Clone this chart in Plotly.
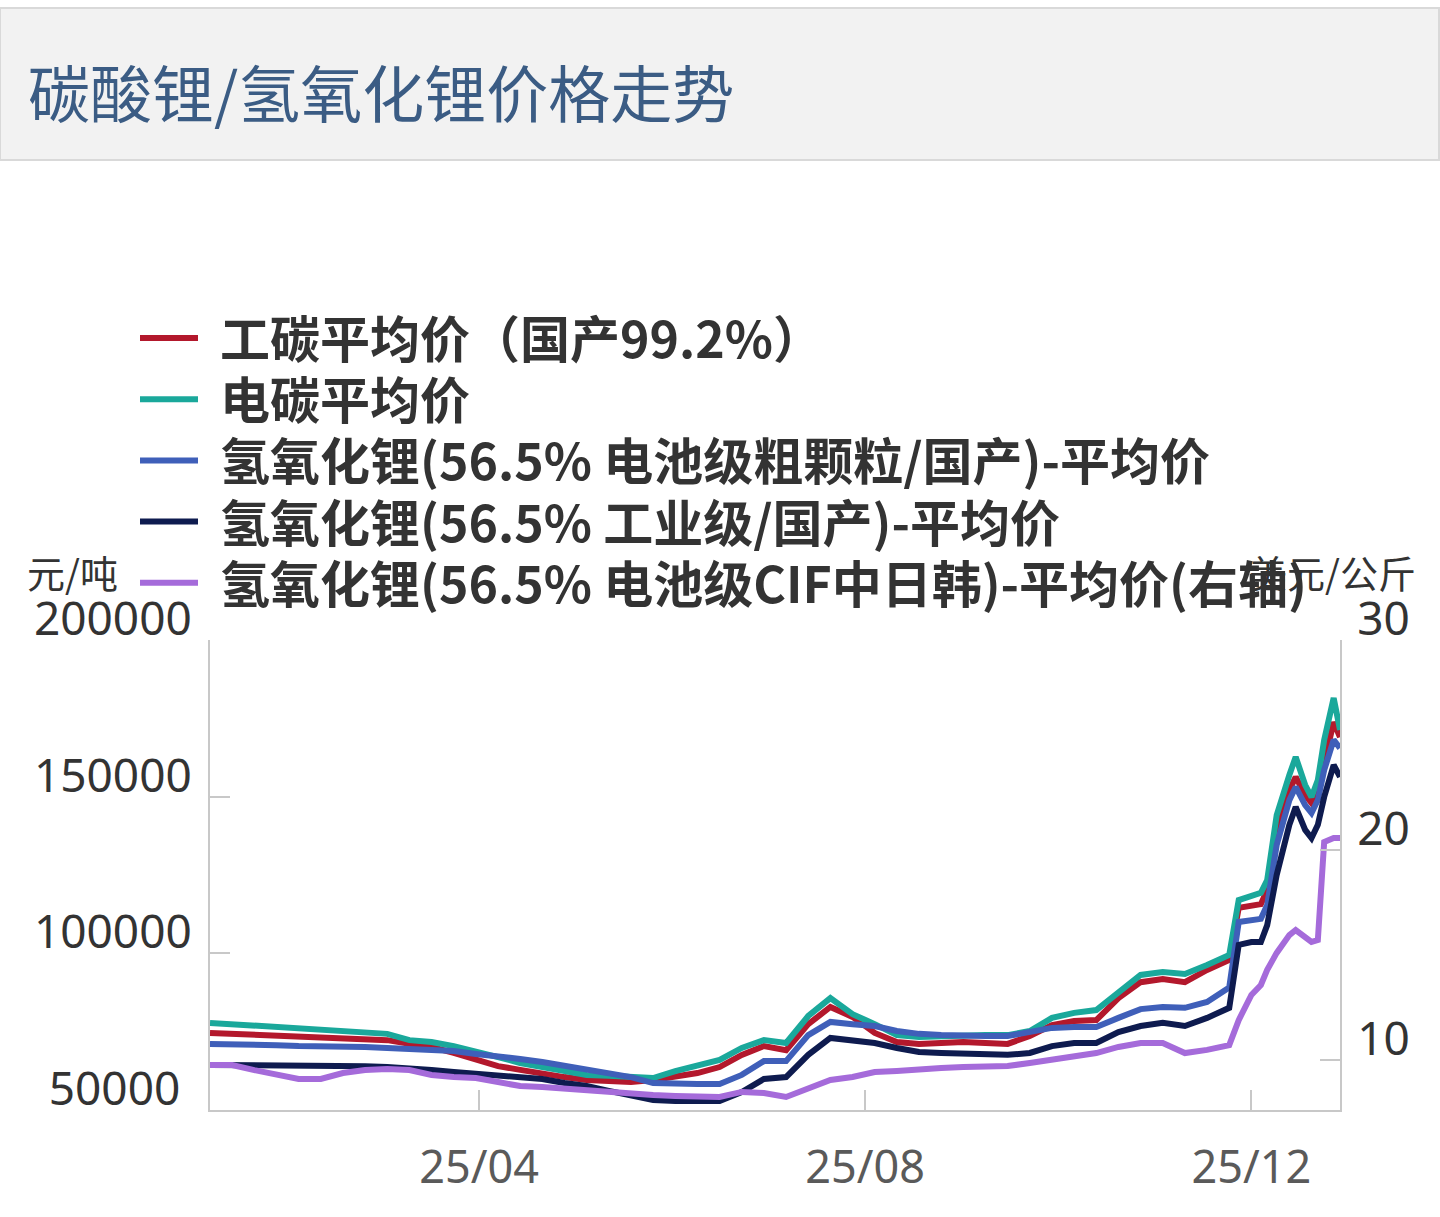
import plotly.graph_objects as go

# ---- data ----
dates = [
    "2025-01-06", "2025-01-13", "2025-01-20", "2025-01-27", "2025-02-03", "2025-02-10",
    "2025-02-17", "2025-02-24", "2025-03-03", "2025-03-10", "2025-03-17", "2025-03-24",
    "2025-03-31", "2025-04-07", "2025-04-14", "2025-04-21", "2025-04-28", "2025-05-05",
    "2025-05-12", "2025-05-19", "2025-05-26", "2025-06-02", "2025-06-09", "2025-06-16",
    "2025-06-23", "2025-06-30", "2025-07-07", "2025-07-14", "2025-07-21", "2025-07-28",
    "2025-08-04", "2025-08-11", "2025-08-18", "2025-08-25", "2025-09-01", "2025-09-08",
    "2025-09-15", "2025-09-22", "2025-09-29", "2025-10-06", "2025-10-13", "2025-10-20",
    "2025-10-27", "2025-11-03", "2025-11-10", "2025-11-17", "2025-11-24", "2025-11-27",
    "2025-12-01", "2025-12-04", "2025-12-06", "2025-12-09", "2025-12-13", "2025-12-15",
    "2025-12-18", "2025-12-20", "2025-12-22", "2025-12-24", "2025-12-27", "2025-12-29",
]

# 元/吨
gongtan = [
    74600, 74300, 73900, 73600, 73300, 73300, 73000, 72700, 72300, 71100,
    70100, 68200, 66000, 64000, 62800, 61500, 60500, 59600, 59300, 58900,
    59600, 60500, 61800, 63700, 67600, 70400, 69100, 77400, 82900, 79700,
    74600, 71700, 71100, 71400, 71700, 71400, 71100, 73600, 77100, 78400,
    78700, 85700, 90800, 91800, 90800, 94700, 97900, 114500, 115400, 115700,
    120200, 139400, 152100, 156300, 150500, 148000, 152100, 161700, 173800, 169000,
]
diantan = [
    77800, 77400, 76800, 76500, 76200, 75900, 75500, 74900, 74300, 72300,
    71700, 70400, 68800, 66900, 65000, 63700, 62400, 61200, 60900, 60500,
    60200, 62400, 64000, 66000, 69800, 72300, 71400, 80000, 85700, 80600,
    77400, 73900, 73300, 73600, 73900, 73900, 73900, 75200, 79400, 81000,
    81900, 87700, 93100, 94000, 93400, 96300, 99500, 117000, 118600, 119300,
    123400, 144100, 156900, 162700, 153700, 149900, 155300, 168100, 181500, 171300,
]
lioh_battery = [
    71100, 71100, 70700, 70700, 70400, 70400, 70100, 70100, 69800, 69500,
    69100, 68800, 67900, 67200, 66300, 65300, 64000, 63100, 61800, 60500,
    58600, 58300, 58300, 58300, 61200, 65600, 65600, 73900, 78100, 77400,
    76800, 75200, 74300, 73900, 73600, 73600, 73600, 74900, 76200, 76500,
    76500, 79400, 82200, 82900, 82600, 84500, 89100, 110000, 110600, 111000,
    115400, 134600, 148900, 153100, 147300, 144800, 148900, 158500, 168100, 165500,
]
lioh_industrial = [
    64400, 64400, 64400, 64400, 64400, 64000, 64000, 64000, 63700, 63400,
    62800, 62100, 61500, 60900, 60200, 59900, 58600, 57700, 56100, 54500,
    53200, 52900, 52900, 52900, 55700, 59900, 60500, 67600, 73000, 72300,
    71400, 69800, 68500, 68200, 67900, 67600, 67600, 68200, 70400, 71400,
    71400, 74900, 76800, 77800, 76800, 79400, 82600, 102700, 103600, 103600,
    109000, 125000, 141000, 146700, 139400, 136800, 141000, 149900, 160100, 156300,
]
# 美元/公斤 (右轴)
lioh_cif = [
    9.76, 9.76, 9.52, 9.29, 9.10, 9.10, 9.38, 9.52, 9.57, 9.52,
    9.29, 9.19, 9.14, 8.95, 8.76, 8.71, 8.62, 8.57, 8.48, 8.38,
    8.33, 8.29, 8.24, 8.24, 8.48, 8.43, 8.24, 8.62, 9.05, 9.19,
    9.43, 9.48, 9.57, 9.62, 9.67, 9.71, 9.71, 9.86, 10.00, 10.19,
    10.33, 10.62, 10.81, 10.81, 10.33, 10.48, 10.71, 11.90, 13.10, 13.57,
    14.29, 15.10, 15.95, 16.19, 15.81, 15.62, 15.71, 20.38, 20.57, 20.57,
]

series_names = [
    "工碳平均价（国产99.2%）",
    "电碳平均价",
    "氢氧化锂(56.5% 电池级粗颗粒/国产)-平均价",
    "氢氧化锂(56.5% 工业级/国产)-平均价",
    "氢氧化锂(56.5% 电池级CIF中日韩)-平均价(右轴)",
]
series_colors = ["#B3182C", "#1AA89B", "#3F5FB9", "#0E1B4F", "#A56BDA"]

left_ticks = [50000, 100000, 150000, 200000]
# labels are centred in the reference, so the 5-digit one gets a little padding
left_ticktext = ["50000\u2005", "100000", "150000", "200000"]
right_ticks = [10, 20, 30]
x_tickvals = ["2025-04-01", "2025-08-01", "2025-12-01"]
x_ticktext = ["25/04", "25/08", "25/12"]

# ---- geometry of the plot area (pixels) ----
W, H = 1440, 1217
L, R, T, B = 210, 1340, 640, 1110


def px(x):
    return (x - L) / (R - L)


def py(y):
    return (B - y) / (B - T)


CJK = "Noto Sans CJK SC"
NUM = "Noto Sans, Noto Sans CJK SC"

fig = go.Figure()

left_series = [gongtan, diantan, lioh_battery, lioh_industrial]
for name, vals, color in zip(series_names[:4], left_series, series_colors[:4]):
    fig.add_trace(go.Scatter(
        x=dates, y=vals, name=name, mode="lines",
        line=dict(color=color, width=6), showlegend=False,
    ))

fig.add_trace(go.Scatter(
    x=dates, y=lioh_cif, name=series_names[4], mode="lines", yaxis="y2",
    line=dict(color=series_colors[4], width=6), showlegend=False,
))

# title band
fig.add_shape(type="rect", xref="paper", yref="paper",
              x0=px(0), x1=px(1439), y0=py(160), y1=py(8),
              fillcolor="#F2F2F2", line=dict(color="#D9D9D9", width=2), layer="below")
fig.add_annotation(text="碳酸锂/氢氧化锂价格走势", xref="paper", yref="paper",
                   x=px(26), y=py(91), xanchor="left", yanchor="middle", showarrow=False,
                   font=dict(family=CJK, size=62, color="#3B5C84"))

# axis unit labels
fig.add_annotation(text="元/吨", xref="paper", yref="paper",
                   x=px(25), y=py(571), xanchor="left", yanchor="middle", showarrow=False,
                   font=dict(family=CJK, size=38, color="#333333"))
fig.add_annotation(text="美元/公斤", xref="paper", yref="paper",
                   x=px(1418), y=py(571), xanchor="right", yanchor="middle", showarrow=False,
                   font=dict(family=CJK, size=38, color="#333333"))

# legend drawn by hand (long swatches, big bold text)
for i, (name, color) in enumerate(zip(series_names, series_colors)):
    yc = 336 + 61.2 * i
    fig.add_shape(type="line", xref="paper", yref="paper",
                  x0=px(140), x1=px(198), y0=py(yc + 2), y1=py(yc + 2),
                  line=dict(color=color, width=6))
    fig.add_annotation(text=f"<b>{name}</b>", xref="paper", yref="paper",
                       x=px(218), y=py(yc), xanchor="left", yanchor="middle", showarrow=False,
                       font=dict(family=CJK, size=50, color="#333333"))

axis_line = dict(showline=True, linecolor="#C8C8C8", linewidth=2,
                 ticks="inside", ticklen=20, tickwidth=2, tickcolor="#C8C8C8",
                 showgrid=False, zeroline=False, automargin=False)

fig.update_layout(
    width=W, height=H, autosize=False,
    margin=dict(l=L, r=W - R, t=T, b=H - B),
    paper_bgcolor="white", plot_bgcolor="white",
    showlegend=False,
    xaxis=dict(
        type="date", range=["2025-01-06", "2025-12-29"],
        tickvals=x_tickvals, ticktext=x_ticktext,
        tickfont=dict(family=NUM, size=45, color="#5A5A5A"),
        ticklabelstandoff=17,
        **axis_line,
    ),
    yaxis=dict(
        range=[50000, 200000], tickvals=left_ticks, ticktext=left_ticktext,
        tickfont=dict(family=NUM, size=46, color="#333333"),
        ticklabelshift=-21, ticklabelstandoff=7,
        **axis_line,
    ),
    yaxis2=dict(
        overlaying="y", side="right", range=[7.619, 30], tickvals=right_ticks,
        tickfont=dict(family=NUM, size=46, color="#333333"),
        ticklabelshift=-21, ticklabelstandoff=6,
        **axis_line,
    ),
)

fig.write_html("out.html", config={"displayModeBar": False},
               post_script="document.body.style.margin='0';")
